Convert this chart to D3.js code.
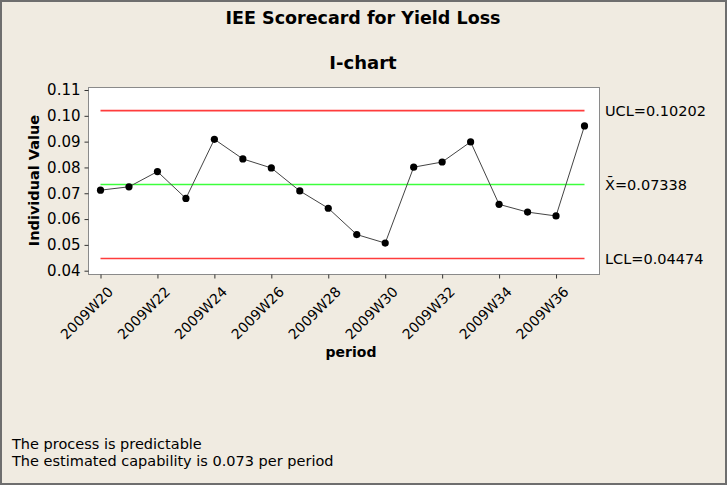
<!DOCTYPE html>
<html>
<head>
<meta charset="utf-8">
<script src="https://cdn.jsdelivr.net/npm/d3@7"></script>
<style>
  html, body { margin: 0; padding: 0; background: #f0ebe1; }
  svg { display: block; }
  text { font-family: 'DejaVu Sans', sans-serif; fill: #000; }
</style>
</head>
<body>
<svg id="board" width="727" height="485"></svg>
<script>
// weekly periods and their individual yield-loss values
const periods = [
  '2009W20', '2009W21', '2009W22', '2009W23', '2009W24', '2009W25',
  '2009W26', '2009W27', '2009W28', '2009W29', '2009W30', '2009W31',
  '2009W32', '2009W33', '2009W34', '2009W35', '2009W36', '2009W37',
];
const values = [
  0.0712, 0.0725, 0.0784, 0.068, 0.0909, 0.0833,
  0.0798, 0.0709, 0.0642, 0.054, 0.0507, 0.0801,
  0.0821, 0.0899, 0.0657, 0.0627, 0.0612, 0.0961,
];
const yTicks = [0.04, 0.05, 0.06, 0.07, 0.08, 0.09, 0.1, 0.11];
const xTickLabels = ['2009W20', '2009W22', '2009W24', '2009W26', '2009W28',
  '2009W30', '2009W32', '2009W34', '2009W36'];
const limitNames = ['UCL', 'X\u0304', 'LCL'];
const limitValues = [0.10202, 0.07338, 0.04474];
const limitColors = ['#ff3c3c', '#3cff3c', '#ff3c3c'];
const notes = ['The process is predictable',
  'The estimated capability is 0.073 per period'];

const W = 727, H = 485;
const box = { left: 88, top: 87, right: 599, bottom: 274 };

var svg = d3.select('#board');

// window frame
svg.append('rect')
  .attr('x', 1).attr('y', 1)
  .attr('width', W - 2).attr('height', H - 2)
  .attr('fill', '#f0ebe1')
  .attr('stroke', '#6e6e6e')
  .attr('stroke-width', 2);

var x = d3.scalePoint()
  .domain(periods)
  .range([100.5, 584.5]);

// 0.04 -> 270.7, 0.11 -> 90
var y = d3.scaleLinear()
  .domain([0.04, 0.11])
  .range([270.7, 90]);

svg.append('rect')
  .attr('x', box.left + 0.5).attr('y', box.top + 0.5)
  .attr('width', box.right - box.left).attr('height', box.bottom - box.top)
  .attr('fill', '#fff')
  .attr('stroke', '#8a8a8a');

// y axis
var yAxis = svg.append('g')
  .attr('transform', `translate(${box.left + 0.5},0)`)
  .call(d3.axisLeft(y).tickValues(yTicks).tickSize(4).tickPadding(4)
    .tickFormat(d3.format('.2f')));
yAxis.select('.domain').remove();
yAxis.selectAll('line').attr('stroke', '#333');
yAxis.selectAll('text')
  .attr('font-size', 15).attr('font-family', "'DejaVu Sans', sans-serif")
  .attr('fill', '#000');

// x axis
var xAxis = svg.append('g')
  .attr('transform', `translate(0,${box.bottom + 0.5})`)
  .call(d3.axisBottom(x).tickValues(xTickLabels).tickSize(4).tickPadding(4));
xAxis.select('.domain').remove();
xAxis.selectAll('line').attr('stroke', '#333');
xAxis.selectAll('text')
  .attr('font-size', 14).attr('font-family', "'DejaVu Sans', sans-serif")
  .attr('fill', '#000')
  .attr('text-anchor', 'end')
  .attr('dy', '0.35em')
  .attr('transform', 'translate(4,9) rotate(-45)');

// control limits
var limitG = svg.append('g').attr('class', 'limits');
limitG.selectAll('line')
  .data(limitValues)
  .join('line')
  .attr('x1', x(periods[0]))
  .attr('x2', x(periods[periods.length - 1]))
  .attr('y1', (d) => y(d))
  .attr('y2', (d) => y(d))
  .attr('stroke-width', 1.6)
  .attr('stroke', (d, i) => limitColors[i]);

limitG.selectAll('text')
  .data(limitValues)
  .join('text')
  .attr('x', 605)
  .attr('y', (d) => y(d))
  .attr('dy', '0.38em')
  .attr('font-size', 14.5)
  .text((d, i) => `${limitNames[i]}=${d}`);

// individual values
var line = d3.line()
  .x((d, i) => x(periods[i]))
  .y((d) => y(d));

svg.append('path')
  .datum(values)
  .attr('d', line)
  .attr('fill', 'none')
  .attr('stroke', '#444')
  .attr('stroke-width', 1);

svg.selectAll('.pt')
  .data(values)
  .join('circle')
  .attr('class', 'pt')
  .attr('cx', (d, i) => x(periods[i]))
  .attr('cy', (d) => y(d))
  .attr('r', 3.6)
  .attr('fill', '#000');

// titles
svg.append('text')
  .attr('x', 363).attr('y', 24)
  .attr('text-anchor', 'middle')
  .attr('font-size', 17.5).attr('font-weight', 'bold')
  .text('IEE Scorecard for Yield Loss');

svg.append('text')
  .attr('x', 363).attr('y', 69)
  .attr('text-anchor', 'middle')
  .attr('font-size', 18).attr('font-weight', 'bold')
  .text('I-chart');

svg.append('text')
  .attr('transform', `translate(39,${(box.top + box.bottom) / 2}) rotate(-90)`)
  .attr('text-anchor', 'middle')
  .attr('font-size', 14.5).attr('font-weight', 'bold')
  .text('Individual Value');

svg.append('text')
  .attr('x', 351).attr('y', 357)
  .attr('text-anchor', 'middle')
  .attr('font-size', 14).attr('font-weight', 'bold')
  .text('period');

svg.selectAll('.note')
  .data(notes)
  .join('text')
  .attr('class', 'note')
  .attr('x', 12)
  .attr('y', (d, i) => 449 + i * 17)
  .attr('font-size', 14.5)
  .text((d) => d);
</script>
</body>
</html>
